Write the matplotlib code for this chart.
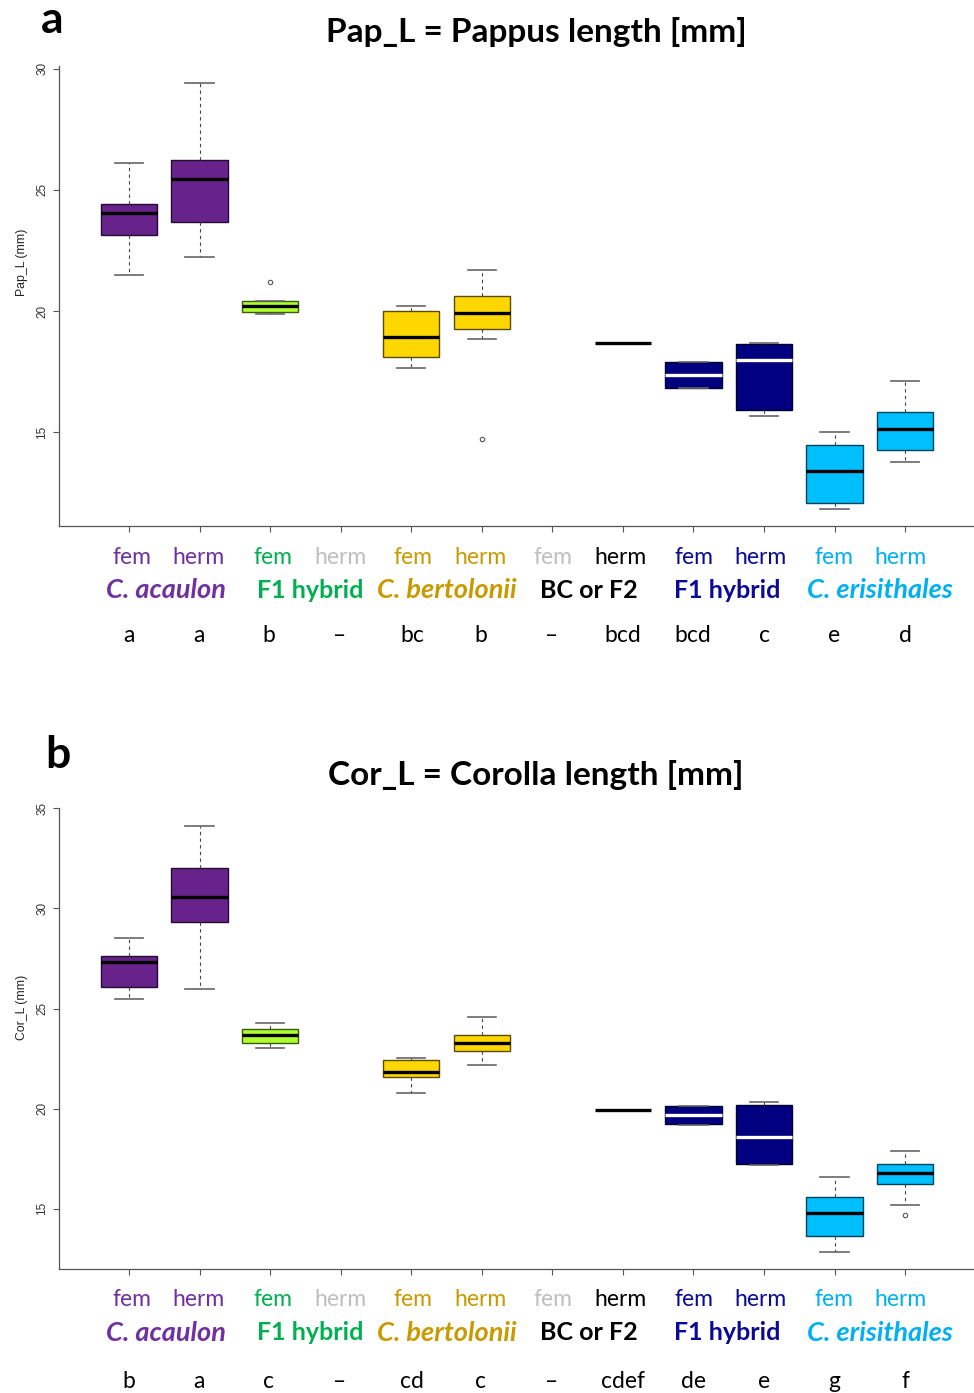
import matplotlib
matplotlib.use("Agg")
import matplotlib.pyplot as plt
import matplotlib.colors as mcolors

W, H = 974, 1393

# ---------------- data ----------------
positions = list(range(1, 13))
sex_labels = ["fem", "herm"] * 6
groups = ["C. acaulon", "F1 hybrid", "C. bertolonii", "BC or F2", "F1 hybrid", "C. erisithales"]

# Panel a: Pappus length (None = no data)
pap_whislo = [21.5, 22.24, 19.89, None, 17.64, 18.87, None, 18.7, 16.82, 15.66, 11.85, 13.79]
pap_q1     = [23.12, 23.66, 19.97, None, 18.10, 19.25, None, 18.7, 16.82, 15.94, 12.10, 14.29]
pap_med    = [24.06, 25.47, 20.23, None, 18.94, 19.94, None, 18.7, 17.38, 18.00, 13.41, 15.15]
pap_q3     = [24.42, 26.25, 20.40, None, 20.02, 20.61, None, 18.7, 17.89, 18.63, 14.47, 15.83]
pap_whishi = [26.10, 29.41, 20.40, None, 20.20, 21.69, None, 18.7, 17.89, 18.68, 15.00, 17.11]
pap_fliers = [[], [], [21.22], [], [], [14.72], [], [], [], [], [], []]
pap_letters = ["a", "a", "b", "\u2013", "bc", "b", "\u2013", "bcd", "bcd", "c", "e", "d"]

# Panel b: Corolla length
cor_whislo = [25.50, 26.00, 23.03, None, 20.80, 22.20, None, 19.93, 19.20, 17.17, 12.83, 15.18]
cor_q1     = [26.10, 29.33, 23.27, None, 21.57, 22.88, None, 19.93, 19.23, 17.23, 13.65, 16.25]
cor_med    = [27.32, 30.58, 23.68, None, 21.83, 23.28, None, 19.93, 19.70, 18.57, 14.78, 16.77]
cor_q3     = [27.60, 32.00, 23.98, None, 22.45, 23.68, None, 19.93, 20.12, 20.17, 15.60, 17.23]
cor_whishi = [28.53, 34.13, 24.28, None, 22.55, 24.58, None, 19.93, 20.15, 20.32, 16.58, 17.88]
cor_fliers = [[], [], [], [], [], [], [], [], [], [], [], [14.70]]
cor_letters = ["b", "a", "c", "\u2013", "cd", "c", "\u2013", "cdef", "de", "e", "g", "f"]

# ---------------- styles ----------------
box_fill = ["#68228B", "#68228B", "#ADFF2F", None, "#FFD700", "#FFD700",
            None, "#000000", "#000080", "#000080", "#00BFFF", "#00BFFF"]
median_col = ["black", "black", "black", None, "black", "black",
              None, "black", "white", "white", "black", "black"]
sex_colors = ["#7030A0", "#7030A0", "#00B050", "#BFBFBF", "#C99A00", "#C99A00",
              "#BFBFBF", "#000000", "#0A0A96", "#0A0A96", "#00B0F0", "#00B0F0"]
group_colors = ["#7030A0", "#00B050", "#C99A00", "#000000", "#0A0A96", "#00B0F0"]
group_italic = [True, False, True, False, False, True]
group_x = [166, 310, 447, 589, 727, 880]
sex_x = [132, 199, 273, 340, 413, 481, 553, 621, 694, 761, 834, 901]
letter_x = [129, 199, 269, 340, 412, 481, 552, 623, 693, 764, 834, 905]

FONT = ["Lato", "DejaVu Sans"]
TICKFONT = ["Liberation Sans", "DejaVu Sans"]


def darker(c, f=0.35):
    r, g, b = mcolors.to_rgb(c)
    return (r * f, g * f, b * f)


def fx(px):
    return px / W


def fy(py):
    return 1 - py / H


fig = plt.figure(figsize=(W / 100, H / 100), dpi=100)


def panel(rect, whislo, q1, med, q3, whishi, fliers, ylim, yticks, ylabel, label_y):
    ax = fig.add_axes(rect)
    for i, p in enumerate(positions):
        if med[i] is None:
            continue
        st = dict(med=med[i], q1=q1[i], q3=q3[i], whislo=whislo[i], whishi=whishi[i],
                  fliers=fliers[i])
        single = q1[i] == q3[i]
        ax.bxp([st], positions=[p], widths=0.8, patch_artist=True, manage_ticks=False,
               boxprops=dict(facecolor=box_fill[i] if not single else "none",
                             edgecolor=darker(box_fill[i]) if not single else "none",
                             linewidth=1.0),
               medianprops=dict(color=median_col[i], linewidth=2.4, solid_capstyle="butt"),
               whiskerprops=dict(color="#444444", linewidth=0.8, linestyle=(0, (3, 3))),
               capprops=dict(color="#666666", linewidth=1.2),
               capwidths=0.4,
               flierprops=dict(marker="o", markersize=3.2, markerfacecolor="none",
                               markeredgecolor="#555555", markeredgewidth=0.8))
    ax.set_xlim(0, 13)
    ax.set_ylim(*ylim)
    ax.set_xticks(positions)
    ax.set_xticklabels([])
    ax.set_yticks(yticks)
    ax.set_yticklabels([str(t) for t in yticks], rotation=90, va="center",
                       fontsize=8.5, family=TICKFONT, color="#333333")
    for s in ["top", "right"]:
        ax.spines[s].set_visible(False)
    for s in ["left", "bottom"]:
        ax.spines[s].set_color("#555555")
        ax.spines[s].set_linewidth(0.9)
    ax.tick_params(axis="both", direction="out", length=4.5, width=0.8, color="#555555")
    ax.tick_params(axis="y", pad=3)
    ax.set_ylabel(ylabel, fontsize=8.8, family=TICKFONT, color="#222222")
    ax.yaxis.set_label_coords(-0.033, label_y)
    ax.patch.set_alpha(0)
    return ax


panel([fx(58.5), fy(526), (975.6 - 58.5) / W, (526 - 66) / H],
      pap_whislo, pap_q1, pap_med, pap_q3, pap_whishi, pap_fliers,
      (11.14, 30.11), [15, 20, 25, 30], "Pap_L (mm)", 0.574)
panel([fx(58.5), fy(1269.3), (975.6 - 58.5) / W, (1269.3 - 808.3) / H],
      cor_whislo, cor_q1, cor_med, cor_q3, cor_whishi, cor_fliers,
      (11.98, 34.98), [15, 20, 25, 30, 35], "Cor_L (mm)", 0.569)


def labels(y_sex, y_group, y_letter, letters):
    for i in range(12):
        fig.text(fx(sex_x[i]), fy(y_sex), sex_labels[i], color=sex_colors[i],
                 fontsize=16.5, family=FONT, ha="center", va="center")
        fig.text(fx(letter_x[i]), fy(y_letter), letters[i], color="black",
                 fontsize=16.5, family=FONT, ha="center", va="center")
    for j in range(6):
        fig.text(fx(group_x[j]), fy(y_group), groups[j], color=group_colors[j],
                 fontsize=19.5 if group_italic[j] else 18, family=FONT, fontweight="bold",
                 style="italic" if group_italic[j] else "normal",
                 ha="center", va="center")


labels(557, 590, 636, pap_letters)
labels(1300, 1333, 1381, cor_letters)

fig.text(fx(536), fy(32), "Pap_L = Pappus length [mm]", fontsize=24, fontweight="bold",
         family=FONT, ha="center", va="center")
fig.text(fx(536), fy(775), "Cor_L = Corolla length [mm]", fontsize=24, fontweight="bold",
         family=FONT, ha="center", va="center")
fig.text(fx(52), fy(20), "a", fontsize=32, fontweight="bold", family=FONT,
         ha="center", va="center")
fig.text(fx(58), fy(755), "b", fontsize=32, fontweight="bold", family=FONT,
         ha="center", va="center")

fig.savefig("out.png", dpi=100)
